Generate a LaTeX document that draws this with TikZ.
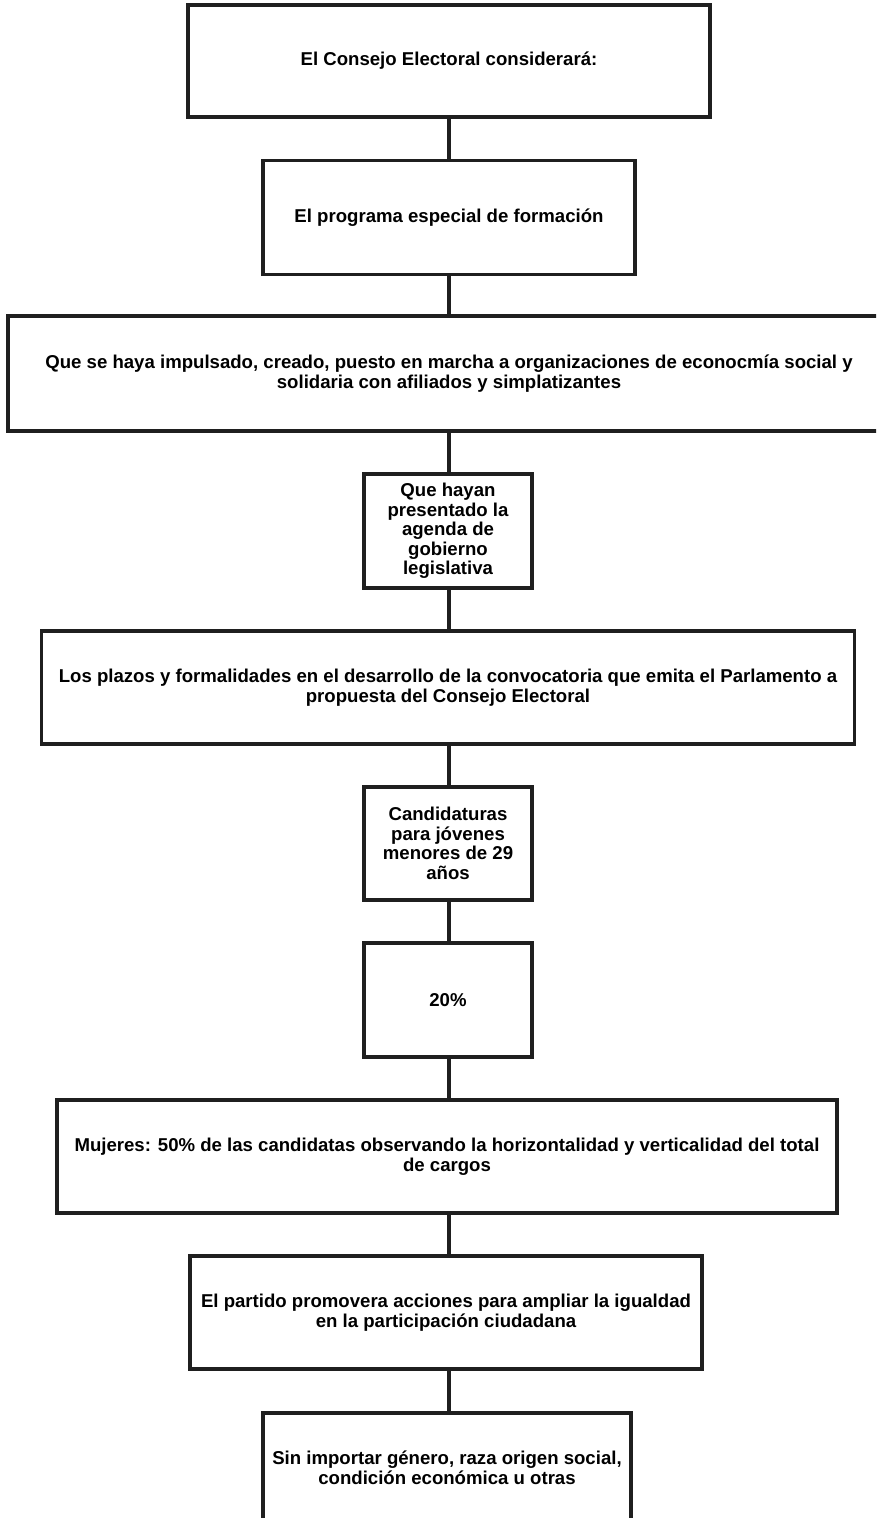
\documentclass[tikz,border=0pt]{standalone}
\usepackage{fontspec}
\setmainfont{Liberation Sans}
\begin{document}
\begin{tikzpicture}[x=1pt,y=-1pt,
  box/.style={draw=black!88, line width=3.5pt, fill=white, rectangle, align=center,
    inner sep=2pt, font=\bfseries\fontsize{18.6}{19.5}\selectfont, text=black},
  link/.style={draw=black!88, line width=3.5pt}]
\useasboundingbox (0,0) rectangle (876,1518);
\clip (0,0) rectangle (876,1518);
\fill[white] (0,0) rectangle (876,1518);
\coordinate (spine) at (449,0);
\node[box, minimum width=522, minimum height=112] (b1) at (449,61) {El Consejo Electoral considerará:};
\node[box, minimum width=372, minimum height=114] (b2) at (449,217.5) {El programa especial de formación};
\node[box, minimum width=882, minimum height=115] (b3) at (449,373.5) {Que se haya impulsado, creado, puesto en marcha a organizaciones de econocmía social y\\ solidaria con afiliados y simplatizantes};
\node[box, minimum width=168, minimum height=114] (b4) at (448,531) {Que hayan\\ presentado la\\ agenda de\\ gobierno\\ legislativa};
\node[box, minimum width=813, minimum height=113] (b5) at (448,687.5) {Los plazos y formalidades en el desarrollo de la convocatoria que emita el Parlamento a\\ propuesta del Consejo Electoral};
\node[box, minimum width=168, minimum height=113] (b6) at (448,843.5) {Candidaturas\\ para jóvenes\\ menores de 29\\ años};
\node[box, minimum width=168, minimum height=114] (b7) at (448,1000) {20\%};
\node[box, minimum width=780, minimum height=113] (b8) at (447,1156.5) {Mujeres: 50\% de las candidatas observando la horizontalidad y verticalidad del total\\ de cargos};
\node[box, minimum width=512, minimum height=113] (b9) at (446,1312.5) {El partido promovera acciones para ampliar la igualdad\\ en la participación ciudadana};
\node[box, minimum width=368, minimum height=110] (b10) at (447,1468) {Sin importar género, raza origen social,\\ condición económica u otras};
\draw[link] (b1.south -| spine) -- (b2.north -| spine);
\draw[link] (b2.south -| spine) -- (b3.north -| spine);
\draw[link] (b3.south -| spine) -- (b4.north -| spine);
\draw[link] (b4.south -| spine) -- (b5.north -| spine);
\draw[link] (b5.south -| spine) -- (b6.north -| spine);
\draw[link] (b6.south -| spine) -- (b7.north -| spine);
\draw[link] (b7.south -| spine) -- (b8.north -| spine);
\draw[link] (b8.south -| spine) -- (b9.north -| spine);
\draw[link] (b9.south -| spine) -- (b10.north -| spine);
\end{tikzpicture}
\end{document}
